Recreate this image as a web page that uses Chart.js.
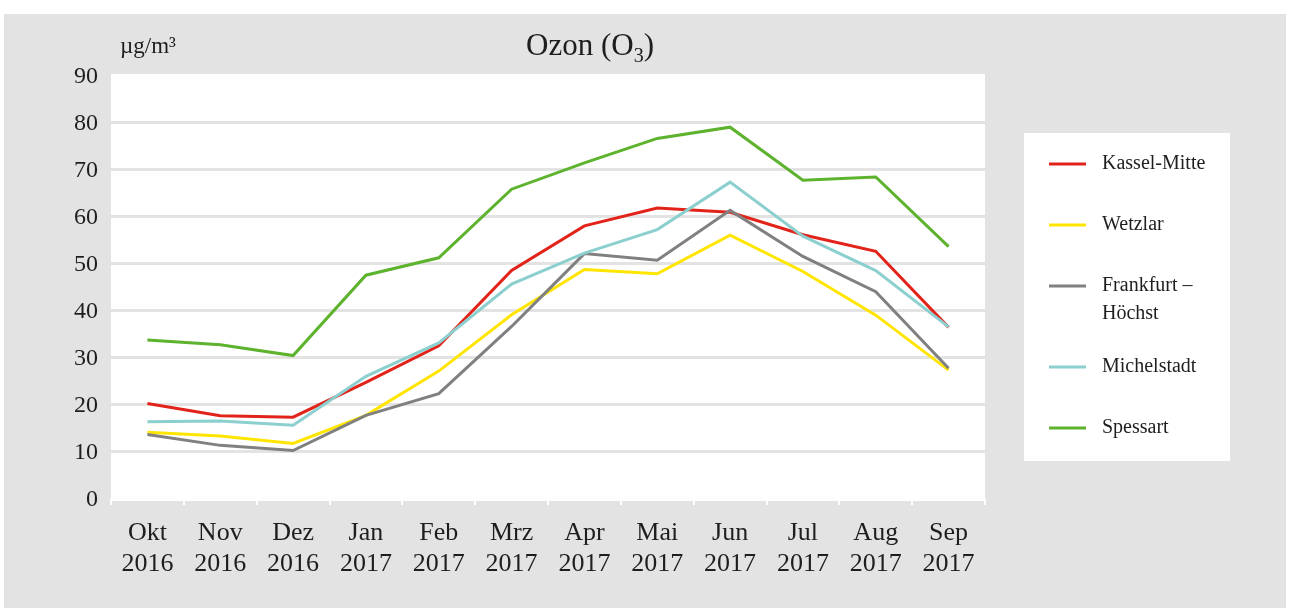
<!DOCTYPE html>
<html lang="de">
<head>
    <meta charset="UTF-8">
    <title>Ozon (O3)</title>
    <style>
        html, body { margin: 0; padding: 0; background: #ffffff; }
        #wrap { width: 1290px; height: 608px; }
    </style>
</head>
<body>
    <div id="wrap"><canvas id="ozon" width="1290" height="608"></canvas></div>
    <script src="https://cdn.jsdelivr.net/npm/chart.js@4.4.1/dist/chart.umd.min.js"></script>
    <script>
        // Monate (zweizeilig)
        var months = [
            ['Okt', '2016'], ['Nov', '2016'], ['Dez', '2016'], ['Jan', '2017'],
            ['Feb', '2017'], ['Mrz', '2017'], ['Apr', '2017'], ['Mai', '2017'],
            ['Jun', '2017'], ['Jul', '2017'], ['Aug', '2017'], ['Sep', '2017']
        ];
        // Monatsmittel in µg/m³
        var kasselMitte = [20.1, 17.5, 17.2, 24.6, 32.4, 48.4, 57.9, 61.7, 60.8, 56.0, 52.5, 36.3];
        var wetzlar     = [14.0, 13.2, 11.6, 17.6, 27.0, 39.0, 48.6, 47.7, 55.9, 48.2, 38.9, 27.2];
        var frankfurt   = [13.5, 11.2, 10.1, 17.6, 22.2, 36.5, 52.0, 50.6, 61.2, 51.4, 43.9, 27.6];
        var michelstadt = [16.2, 16.4, 15.5, 25.9, 33.0, 45.5, 52.1, 57.1, 67.2, 55.7, 48.4, 36.4];
        var spessart    = [33.6, 32.6, 30.3, 47.4, 51.1, 65.7, 71.3, 76.5, 78.9, 67.6, 68.3, 53.5];
        var yTicks = [0, 10, 20, 30, 40, 50, 60, 70, 80, 90];

        var bgGray = '#e3e3e3';
        var textColor = '#1e1e1e';
        var serif = "'Liberation Serif', 'DejaVu Serif', serif";

        // Hintergrund, Titel, Einheit
        var backdrop = {
            id: 'backdrop',
            beforeDraw: function (chart) {
                var c = chart.ctx, a = chart.chartArea;
                c.save();
                c.fillStyle = bgGray;
                c.fillRect(4, 14, 1282, 594);
                c.fillStyle = '#ffffff';
                c.fillRect(a.left, a.top - 1, a.right - a.left, a.bottom - a.top + 4);
                c.restore();
            },
            afterDraw: function (chart) {
                var c = chart.ctx;
                c.save();
                c.fillStyle = textColor;
                c.textBaseline = 'alphabetic';
                // Titel mit tiefgestellter 3
                var big = '31px ' + serif, small = '20px ' + serif;
                c.font = big;
                var w1 = c.measureText('Ozon (O').width;
                var w3 = c.measureText(')').width;
                c.font = small;
                var w2 = c.measureText('3').width;
                var x = 590 - (w1 + w2 + w3) / 2;
                c.font = big;
                c.textAlign = 'left';
                c.fillText('Ozon (O', x, 55);
                c.font = small;
                c.fillText('3', x + w1, 62);
                c.font = big;
                c.fillText(')', x + w1 + w2, 55);
                // Einheit
                c.font = '23px ' + serif;
                c.fillText('µg/m³', 120, 53);
                c.restore();
            }
        };

        // Legende rechts im weißen Kasten (Reihenfolge wie im Original)
        var sideLegend = {
            id: 'sideLegend',
            afterDraw: function (chart) {
                var c = chart.ctx;
                c.save();
                c.fillStyle = '#ffffff';
                c.fillRect(1024, 133, 206, 328);
                c.font = '20px ' + serif;
                c.textAlign = 'left';
                c.textBaseline = 'middle';
                var y = 164;
                chart.data.datasets.slice().reverse().forEach(function (ds) {
                    c.strokeStyle = ds.borderColor;
                    c.lineWidth = 3;
                    c.beginPath();
                    c.moveTo(1049, y);
                    c.lineTo(1086, y);
                    c.stroke();
                    c.fillStyle = textColor;
                    var lines = ds.label.split('\n');
                    lines.forEach(function (t, i) {
                        c.fillText(t, 1102, y + i * 28);
                    });
                    y += 61 + (lines.length - 1) * 20;
                });
                c.restore();
            }
        };

        var ctx = document.getElementById('ozon').getContext('2d');
        new Chart(ctx, {
            type: 'line',
            data: {
                labels: months,
                // umgekehrt, damit Kassel-Mitte oben liegt
                datasets: [
                    { label: 'Kassel-Mitte', data: kasselMitte, borderColor: '#e2231a' },
                    { label: 'Wetzlar', data: wetzlar, borderColor: '#ffe500' },
                    { label: 'Frankfurt –\nHöchst', data: frankfurt, borderColor: '#808080' },
                    { label: 'Michelstadt', data: michelstadt, borderColor: '#8ccfcf' },
                    { label: 'Spessart', data: spessart, borderColor: '#5db22e' }
                ].map(function (d) {
                    d.borderWidth = 3;
                    d.pointRadius = 0;
                    d.tension = 0;
                    d.fill = false;
                    return d;
                }).reverse()
            },
            options: {
                responsive: false,
                animation: false,
                layout: { padding: { top: 75, right: 305, left: 0, bottom: 0 } },
                plugins: {
                    legend: { display: false },
                    title: { display: false },
                    tooltip: { enabled: false }
                },
                scales: {
                    x: {
                        offset: true,
                        border: { display: false },
                        grid: {
                            offset: true,
                            drawOnChartArea: false,
                            drawTicks: true,
                            tickLength: 7,
                            color: '#ffffff',
                            lineWidth: 2
                        },
                        ticks: {
                            color: textColor,
                            padding: 13,
                            maxRotation: 0,
                            font: { family: serif, size: 26, lineHeight: 1.19 }
                        },
                        afterFit: function (scale) { scale.height = 110; }
                    },
                    y: {
                        min: 0,
                        max: 90,
                        border: { display: false },
                        grid: {
                            drawTicks: false,
                            lineWidth: 3,
                            color: function (c) {
                                return (c.tick && (c.tick.value === 0 || c.tick.value === 90)) ? 'rgba(0,0,0,0)' : bgGray;
                            }
                        },
                        afterBuildTicks: function (scale) {
                            scale.ticks = yTicks.map(function (v) { return { value: v }; });
                        },
                        ticks: {
                            color: textColor,
                            padding: 13,
                            labelOffset: 2,
                            font: { family: serif, size: 24 }
                        },
                        afterFit: function (scale) { scale.width = 111; }
                    }
                }
            },
            plugins: [backdrop, sideLegend]
        });
    </script>
</body>
</html>
